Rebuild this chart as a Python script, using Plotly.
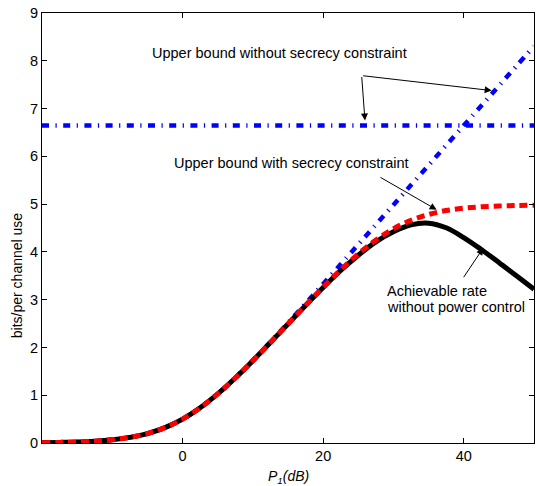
import plotly.graph_objects as go

# x axis: P1 in dB
p_db = [-20, -17.5, -15, -12.5, -10, -7.5, -5, -2.5, 0, 2.5, 5, 7.5, 10, 12.5, 15,
        17.5, 20, 22.5, 25, 27.5, 30, 32.5, 35, 37.5, 40, 42.5, 45, 47.5, 50]

# Upper bound without secrecy constraint (rising)
ub_no_secrecy = [0.007, 0.013, 0.022, 0.039, 0.069, 0.118, 0.198, 0.322, 0.500, 0.737,
                 1.029, 1.364, 1.730, 2.115, 2.514, 2.920, 3.329, 3.741, 4.155, 4.569,
                 4.983, 5.398, 5.813, 6.229, 6.644, 7.059, 7.475, 7.890, 8.305]

# Upper bound without secrecy constraint (flat level)
flat_x = [-20, 50]
flat_y = [6.644, 6.644]

# Upper bound with secrecy constraint
ub_secrecy = [0.007, 0.013, 0.022, 0.039, 0.069, 0.118, 0.198, 0.322, 0.499, 0.736,
              1.027, 1.360, 1.723, 2.102, 2.491, 2.880, 3.260, 3.623, 3.957, 4.247,
              4.483, 4.661, 4.784, 4.865, 4.914, 4.944, 4.961, 4.970, 4.976]

# Achievable rate without power control
achievable = [0.007, 0.013, 0.022, 0.039, 0.069, 0.118, 0.198, 0.322, 0.499, 0.736,
              1.027, 1.360, 1.723, 2.102, 2.490, 2.878, 3.255, 3.610, 3.930, 4.210,
              4.420, 4.565, 4.600, 4.505, 4.300, 4.050, 3.780, 3.500, 3.220]

x_ticks = [0, 20, 40]
y_ticks = [0, 1, 2, 3, 4, 5, 6, 7, 8, 9]

FONT = "Liberation Sans, Arial, Helvetica, sans-serif"

fig = go.Figure()
fig.add_trace(go.Scatter(x=p_db, y=ub_no_secrecy, mode="lines", line_shape="spline",
                         line=dict(color="#0000ff", width=4.5, dash="7px,6.5px,1.2px,6.5px"),
                         name="Upper bound without secrecy constraint"))
fig.add_trace(go.Scatter(x=flat_x, y=flat_y, mode="lines",
                         line=dict(color="#0000ff", width=4.5, dash="7px,6.5px,1.2px,6.5px"),
                         name="Upper bound without secrecy constraint (level)"))
fig.add_trace(go.Scatter(x=p_db, y=achievable, mode="lines", line_shape="spline",
                         line=dict(color="black", width=5),
                         name="Achievable rate without power control"))
fig.add_trace(go.Scatter(x=p_db, y=ub_secrecy, mode="lines", line_shape="spline",
                         line=dict(color="#ff0000", width=5, dash="8px,5px"),
                         name="Upper bound with secrecy constraint"))

axis_common = dict(showline=True, linecolor="black", linewidth=1, mirror="allticks",
                   ticks="inside", ticklen=5, tickcolor="black", tickwidth=1,
                   showgrid=False, zeroline=False,
                   tickfont=dict(family=FONT, size=14.5, color="black"))

fig.update_xaxes(range=[-20, 50], tickvals=x_ticks, ticktext=[str(v) for v in x_ticks],
                 **axis_common)
fig.update_yaxes(range=[0, 9], tickvals=y_ticks, ticktext=[str(v) for v in y_ticks],
                 **axis_common)

txt_font = dict(family=FONT, size=14.5, color="black")
arrow_style = dict(xref="x", yref="y", axref="x", ayref="y", text="", showarrow=True,
                   arrowhead=2, arrowsize=1.4, arrowwidth=1, arrowcolor="black")
annotations = [
    dict(x=13.86, y=8.164, xref="x", yref="y", text="Upper bound without secrecy constraint",
         showarrow=False, font=txt_font, xanchor="center", yanchor="middle"),
    dict(x=15.5, y=5.865, xref="x", yref="y", text="Upper bound with secrecy constraint",
         showarrow=False, font=txt_font, xanchor="center", yanchor="middle"),
    dict(x=28.8, y=3.188, xref="x", yref="y", text="Achievable rate",
         showarrow=False, font=txt_font, xanchor="left", yanchor="middle"),
    dict(x=28.8, y=2.839, xref="x", yref="y", text="without power control",
         showarrow=False, font=txt_font, xanchor="left", yanchor="middle"),
    # arrows
    dict(x=25.95, y=6.75, ax=25.48, ay=7.69, **arrow_style),
    dict(x=43.98, y=7.376, ax=25.48, ay=7.69, **arrow_style),
    dict(x=36.15, y=4.882, ax=27.94, ay=5.578, **arrow_style),
    dict(x=42.78, y=4.081, ax=39.85, ay=3.439, **arrow_style),
    # axis titles
    dict(x=0.5, y=-0.08, xref="paper", yref="paper", text="<i>P<sub>1</sub>(dB)</i>",
         showarrow=False, font=dict(family=FONT, size=14, color="black"),
         xanchor="center", yanchor="middle"),
    dict(x=-0.051, y=0.39, xref="paper", yref="paper", text="bits/per channel use",
         showarrow=False, font=dict(family=FONT, size=14, color="black"),
         textangle=-90, xanchor="center", yanchor="middle"),
]

fig.update_layout(width=536, height=486, margin=dict(l=42, r=2, t=13, b=42.5),
                  plot_bgcolor="white", paper_bgcolor="white", showlegend=False,
                  annotations=annotations)

fig.write_html("out.html")
